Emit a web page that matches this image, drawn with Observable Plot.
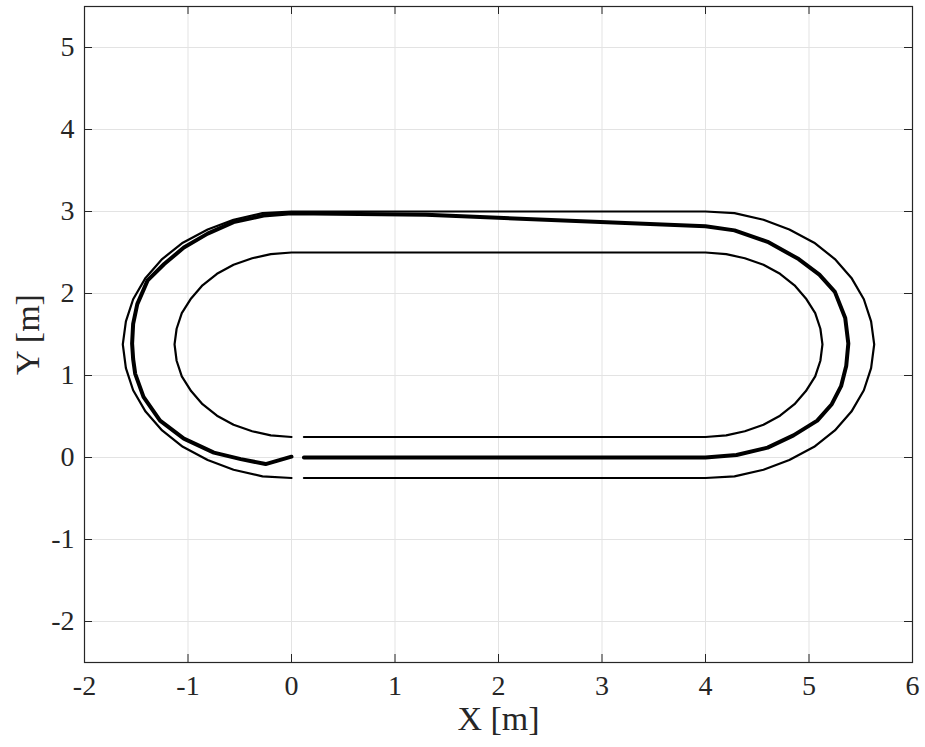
<!DOCTYPE html>
<html>
<head>
<meta charset="utf-8">
<script src="https://cdn.jsdelivr.net/npm/d3@7"></script>
<script src="https://cdn.jsdelivr.net/npm/@observablehq/plot@0.6"></script>
<style>
  html, body { margin: 0; padding: 0; background: #fff; }
</style>
</head>
<body>
<div id="chart"></div>
<script>
// Tick values for both axes
const xTicks = [-2, -1, 0, 1, 2, 3, 4, 5, 6];
const yTicks = [-2, -1, 0, 1, 2, 3, 4, 5];

// Outer track boundary (m): bottom straight, right bend, top straight, left bend
const outerX = [0.12, 4.00, 4.28, 4.56, 4.81, 5.05, 5.25, 5.41, 5.53, 5.60, 5.63, 5.60, 5.53, 5.41, 5.25, 5.05, 4.81, 4.56, 4.28, 4.00,
                0.00, -0.28, -0.56, -0.81, -1.05, -1.25, -1.41, -1.53, -1.60, -1.63, -1.60, -1.53, -1.41, -1.25, -1.05, -0.81, -0.56, -0.28, 0.00];
const outerY = [-0.25, -0.25, -0.23, -0.15, -0.03, 0.13, 0.33, 0.56, 0.82, 1.09, 1.38, 1.66, 1.93, 2.19, 2.42, 2.62, 2.78, 2.90, 2.98, 3.00,
                3.00, 2.98, 2.90, 2.78, 2.62, 2.42, 2.19, 1.93, 1.66, 1.38, 1.09, 0.82, 0.56, 0.33, 0.13, -0.03, -0.15, -0.23, -0.25];

// Inner track boundary (m)
const innerX = [0.12, 4.00, 4.20, 4.38, 4.56, 4.72, 4.86, 4.97, 5.06, 5.11, 5.13, 5.11, 5.06, 4.97, 4.86, 4.72, 4.56, 4.38, 4.20, 4.00,
                0.00, -0.20, -0.38, -0.56, -0.72, -0.86, -0.97, -1.06, -1.11, -1.13, -1.11, -1.06, -0.97, -0.86, -0.72, -0.56, -0.38, -0.20, 0.00];
const innerY = [0.25, 0.25, 0.27, 0.32, 0.40, 0.51, 0.65, 0.81, 0.99, 1.18, 1.38, 1.57, 1.76, 1.94, 2.10, 2.24, 2.35, 2.43, 2.48, 2.50,
                2.50, 2.48, 2.43, 2.35, 2.24, 2.10, 1.94, 1.76, 1.57, 1.38, 1.18, 0.99, 0.81, 0.65, 0.51, 0.40, 0.32, 0.27, 0.25];

// Driven trajectory (m)
const pathX = [0.12, 4.00, 4.30, 4.60, 4.85, 5.08, 5.22, 5.31, 5.36, 5.38, 5.35, 5.25, 5.10, 4.90, 4.60, 4.28, 4.00,
               1.30, 0.00, -0.27, -0.56, -0.81, -1.04, -1.23, -1.39, -1.49, -1.53, -1.54, -1.53, -1.51, -1.43, -1.27, -1.04, -0.75, -0.49, -0.25, 0.00];
const pathY = [0.00, 0.00, 0.03, 0.12, 0.27, 0.45, 0.65, 0.87, 1.12, 1.39, 1.70, 2.02, 2.23, 2.42, 2.63, 2.77, 2.82,
               2.96, 2.98, 2.95, 2.87, 2.73, 2.56, 2.36, 2.16, 1.87, 1.63, 1.39, 1.20, 1.02, 0.74, 0.45, 0.23, 0.06, -0.02, -0.08, 0.01];

const rows = (xs, ys) => xs.map((x, i) => ({x, y: ys[i]}));
const outer = rows(outerX, outerY);
const inner = rows(innerX, innerY);
const path = rows(pathX, pathY);

const axisColor = "#262626";
const gridColor = "#e3e3e3";
const font = "'Liberation Serif', 'Times New Roman', serif";
const tickLen = 8;
const plotW = 925 - 84 - 13;
const plotH = 747 - 6 - 85;

const chart = Plot.plot({
  width: 925,
  height: 747,
  marginLeft: 84,
  marginRight: 13,
  marginTop: 6,
  marginBottom: 85,
  x: {domain: [-2, 6]},
  y: {domain: [-2.5, 5.5]},
  style: {fontFamily: font, color: axisColor, background: "#fff"},
  marks: [
    Plot.gridX(xTicks, {stroke: gridColor, strokeOpacity: 1, strokeWidth: 1}),
    Plot.gridY(yTicks, {stroke: gridColor, strokeOpacity: 1, strokeWidth: 1}),
    Plot.line(outer, {x: "x", y: "y", stroke: "#000", strokeWidth: 2.2, strokeLinejoin: "round"}),
    Plot.line(inner, {x: "x", y: "y", stroke: "#000", strokeWidth: 2.2, strokeLinejoin: "round"}),
    Plot.line(path, {x: "x", y: "y", stroke: "#000", strokeWidth: 4, strokeLinejoin: "round"}),
    // inward-pointing ticks on all four sides
    Plot.tickX(xTicks, {x: d => d, insetTop: plotH - tickLen, stroke: axisColor}),
    Plot.tickX(xTicks, {x: d => d, insetBottom: plotH - tickLen, stroke: axisColor}),
    Plot.tickY(yTicks, {y: d => d, insetRight: plotW - tickLen, stroke: axisColor}),
    Plot.tickY(yTicks, {y: d => d, insetLeft: plotW - tickLen, stroke: axisColor}),
    Plot.axisX(xTicks, {tickSize: 0, tickPadding: 13, fontSize: 28, tickFormat: d => String(d), label: null, fill: axisColor}),
    Plot.axisY(yTicks, {tickSize: 0, tickPadding: 10, fontSize: 28, tickFormat: d => String(d), label: null, fill: axisColor}),
    Plot.frame({stroke: axisColor, strokeWidth: 1.2}),
    Plot.text(["X [m]"], {frameAnchor: "bottom", textAnchor: "middle", lineAnchor: "middle", dy: 57, fontSize: 34, fill: axisColor}),
    Plot.text(["Y [m]"], {frameAnchor: "left", textAnchor: "middle", lineAnchor: "middle", dx: -56, rotate: -90, fontSize: 34, fill: axisColor})
  ]
});

document.getElementById("chart").appendChild(chart);
</script>
</body>
</html>
